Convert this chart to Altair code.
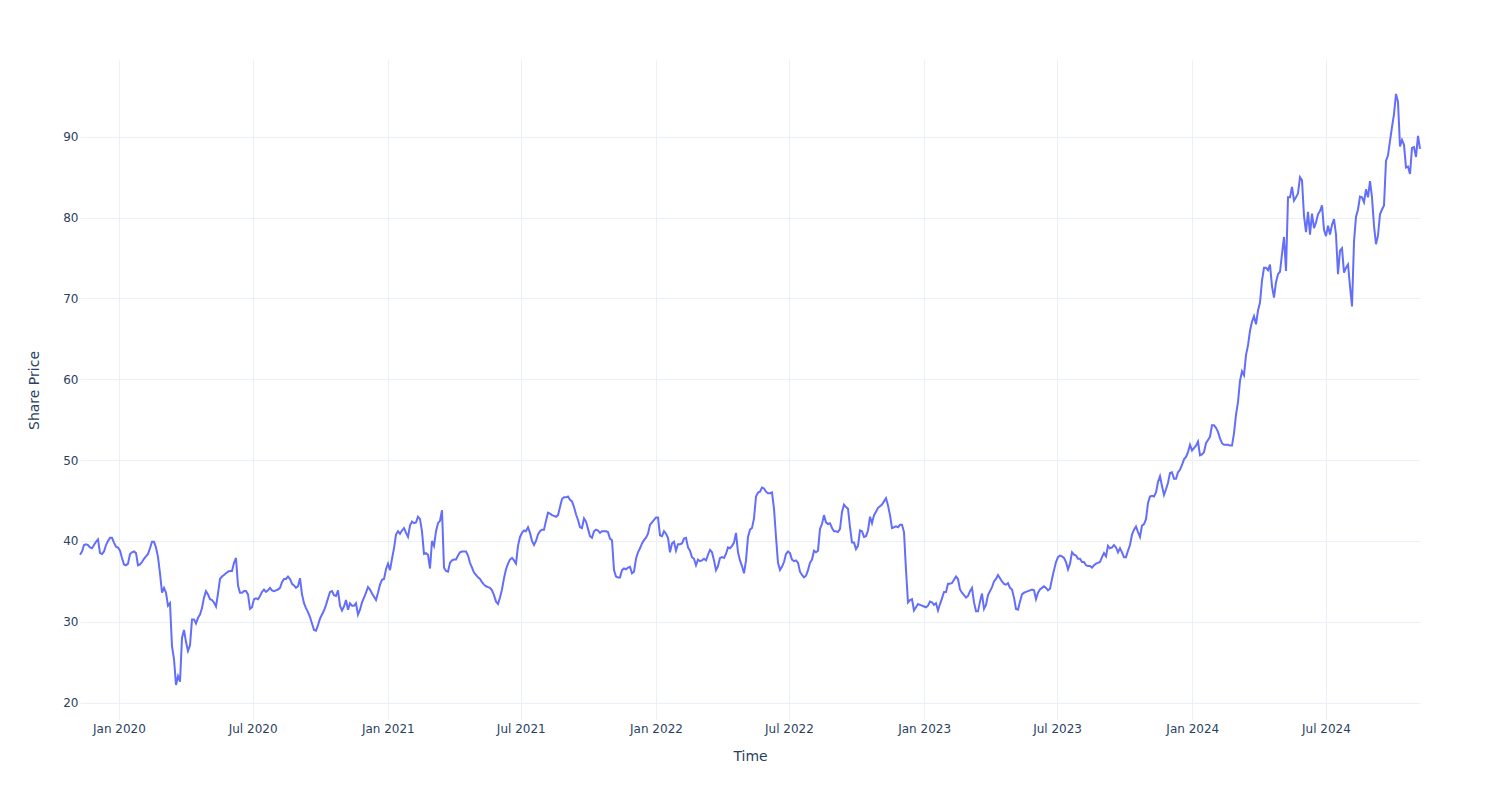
import altair as alt
import pandas as pd

# Time grid of the series (evenly spaced observations between first and last date)
START = "2019-11-09"
END = "2024-11-06"

# Share price, in time order
price = [
    38.3, 38.7, 39.5, 39.6, 39.5, 39.2, 39.1, 39.5, 39.9, 40.2,
    38.5, 38.4, 38.7, 39.5, 40.0, 40.4, 40.4, 39.8, 39.3, 39.2,
    38.8, 37.9, 37.1, 37.0, 37.2, 38.4, 38.6, 38.7, 38.5, 37.0,
    37.1, 37.4, 37.8, 38.1, 38.4, 39.1, 39.9, 39.9, 39.2, 38.0,
    36.0, 33.6, 34.2, 33.6, 32.0, 32.3, 27.0, 25.4, 22.2, 23.3,
    22.6, 28.0, 29.0, 27.5, 26.4, 27.1, 30.3, 30.3, 29.8, 30.5,
    30.9, 31.7, 33.0, 33.8, 33.4, 32.8, 32.7, 32.4, 31.9, 33.5,
    35.3, 35.6, 35.8, 36.0, 36.2, 36.3, 36.3, 37.3, 37.9, 34.5,
    33.6, 33.6, 33.8, 33.8, 33.4, 31.6, 31.8, 32.8, 32.9, 32.8,
    33.2, 33.7, 34.0, 33.7, 33.9, 34.2, 33.9, 33.8, 33.9, 34.0,
    34.2, 34.9, 35.3, 35.3, 35.6, 35.3, 34.7, 34.5, 34.2, 34.4,
    35.4, 33.4, 32.3, 31.7, 31.2, 30.6, 29.8, 29.0, 28.9, 29.6,
    30.4, 30.9, 31.4, 32.1, 32.9, 33.7, 33.8, 33.3, 33.2, 33.9,
    32.0, 31.4, 31.9, 32.7, 31.5, 32.3, 32.0, 32.0, 32.3, 30.9,
    31.5, 32.4, 33.0, 33.6, 34.3, 34.0, 33.5, 33.1, 32.7, 33.6,
    34.6, 35.2, 35.3, 36.5, 37.2, 36.4, 37.8, 39.1, 40.8, 41.2,
    40.9, 41.3, 41.6, 41.0, 40.5, 41.9, 42.4, 42.2, 42.3, 43.0,
    42.7, 41.2, 38.4, 38.5, 38.3, 36.6, 40.0, 39.4, 41.2, 42.2,
    42.5, 43.8, 36.7, 36.3, 36.2, 37.3, 37.6, 37.7, 37.7, 38.2,
    38.6, 38.7, 38.7, 38.7, 38.2, 37.3, 36.7, 36.1, 35.8, 35.5,
    35.3, 34.9, 34.6, 34.4, 34.3, 34.2, 33.9, 33.3, 32.5, 32.2,
    33.0, 34.0, 35.4, 36.5, 37.2, 37.7, 37.9, 37.6, 37.2, 39.4,
    40.5, 41.0, 41.3, 41.2, 41.7, 41.0, 40.0, 39.5, 40.0, 40.8,
    41.2, 41.4, 41.4, 42.5, 43.5, 43.4, 43.2, 43.1, 43.0, 43.2,
    44.2, 45.2, 45.4, 45.4, 45.5, 45.1, 44.9, 44.2, 43.3, 42.6,
    41.7, 41.6, 42.8, 42.4, 41.5, 40.6, 40.4, 41.2, 41.4, 41.3,
    41.0, 41.2, 41.2, 41.2, 41.1, 40.3, 40.1, 36.4, 35.6, 35.5,
    35.5, 36.4, 36.6, 36.5, 36.7, 36.8, 36.0, 36.2, 37.8, 38.6,
    39.1, 39.7, 40.1, 40.4, 40.9, 42.0, 42.3, 42.6, 42.9, 42.9,
    40.7, 40.6, 41.2, 40.9, 40.4, 38.6, 39.7, 39.9, 38.8, 39.6,
    39.6, 39.7, 40.3, 40.4, 39.2, 38.8, 38.0, 37.8, 37.0, 37.7,
    37.5, 37.6, 37.8, 37.6, 38.3, 38.9, 38.6, 37.6, 36.4, 36.9,
    37.9, 38.0, 37.9, 38.4, 39.2, 39.1, 39.4, 39.8, 41.0, 38.6,
    37.6, 36.9, 36.0, 37.6, 40.5, 41.4, 41.6, 42.8, 45.5, 46.0,
    46.1, 46.6, 46.5, 46.1, 45.9, 45.9, 46.0, 44.0, 40.5, 37.3,
    36.4, 36.8, 37.4, 38.4, 38.7, 38.5, 37.7, 37.5, 37.6, 37.3,
    36.2, 35.8, 35.5, 35.7, 36.4, 37.3, 37.7, 38.8, 38.6, 38.8,
    41.5, 42.1, 43.2, 42.3, 42.1, 42.2, 41.6, 41.2, 41.2, 41.1,
    41.5, 43.6, 44.5, 44.2, 44.0, 41.7, 39.8, 39.8, 39.0, 39.4,
    41.3, 41.2, 40.5, 40.6, 41.3, 43.0, 42.2, 43.2, 43.6, 44.1,
    44.3, 44.5, 44.9, 45.3, 44.4, 43.2, 41.6, 41.7, 41.8, 41.7,
    42.0, 42.0, 41.1, 36.4, 32.4, 32.7, 32.8, 31.4, 31.8, 32.2,
    32.1, 32.0, 31.9, 31.8, 32.0, 32.5, 32.4, 32.1, 32.3, 31.4,
    32.2, 32.9, 33.7, 33.7, 34.7, 34.7, 34.8, 35.2, 35.6, 35.3,
    34.0, 33.6, 33.3, 33.0, 33.2, 33.8, 34.2, 32.4, 31.3, 31.3,
    32.5, 33.5, 31.6, 32.1, 33.3, 33.8, 34.3, 35.0, 35.3, 35.8,
    35.4, 35.0, 34.7, 34.6, 34.8, 34.2, 34.0, 33.0, 31.6, 31.5,
    32.5, 33.4, 33.6, 33.7, 33.8, 33.9, 34.0, 33.9, 32.8, 33.6,
    34.0, 34.2, 34.4, 34.2, 33.9, 34.1, 35.3, 36.4, 37.4, 38.0,
    38.2, 38.1, 37.9, 37.4, 36.5, 37.2, 38.6, 38.3, 38.2, 37.8,
    37.8, 37.4, 37.4, 37.0, 36.9, 36.9, 36.7, 37.0, 37.2, 37.3,
    37.4, 38.0, 38.5, 38.1, 39.4, 39.1, 39.2, 39.5, 39.2, 38.6,
    39.1, 38.6, 38.0, 38.0, 38.8, 39.5, 40.8, 41.4, 41.8, 41.1,
    40.5, 41.9, 42.1, 42.7, 44.7, 45.5, 45.6, 45.5, 46.0, 47.3,
    48.0, 46.8, 45.7, 46.4, 47.2, 48.4, 48.5, 47.7, 47.7, 48.5,
    48.8, 49.4, 50.1, 50.4, 51.0, 51.9, 51.2, 51.5, 51.8, 52.3,
    50.6, 50.7, 51.0, 52.1, 52.5, 52.9, 54.3, 54.3, 54.0, 53.5,
    52.7, 52.1, 51.9, 51.9, 51.9, 51.8, 51.8, 53.3, 55.6, 57.2,
    59.8, 61.0, 60.5, 63.0, 64.2, 66.0, 67.1, 67.8, 66.8, 68.5,
    69.5, 72.2, 73.8, 73.8, 73.5, 74.2, 71.5, 70.1, 72.0, 73.0,
    73.3, 75.5, 77.6, 73.4, 82.5, 82.5, 83.8, 82.1, 82.5, 83.0,
    85.0, 84.6, 80.2, 78.2, 80.7, 77.9, 80.5, 78.7, 79.4, 80.4,
    80.8, 81.5, 78.5, 77.7, 79.0, 77.9, 79.1, 79.8, 77.9, 73.0,
    75.9, 76.2, 73.2, 73.8, 74.2, 71.5, 69.0, 77.0, 80.1, 81.0,
    82.6, 82.5, 81.9, 83.5, 82.5, 84.5, 82.5, 79.0, 76.7, 77.8,
    80.4, 81.0, 81.5, 87.0, 87.7, 89.5, 91.2, 92.8, 95.3, 94.3,
    88.8, 89.6, 89.0, 86.2, 86.3, 85.4, 88.6, 88.7, 87.5, 90.1,
    88.5,
]

tick_months = [(2020, 1), (2020, 7), (2021, 1), (2021, 7), (2022, 1),
               (2022, 7), (2023, 1), (2023, 7), (2024, 1), (2024, 7)]
y_ticks = [20, 30, 40, 50, 60, 70, 80, 90]
y_domain = [17.86, 99.49]

dates = pd.date_range(START, END, periods=len(price))
df = pd.DataFrame({
    "Time": dates.strftime("%Y-%m-%dT%H:%M:%SZ"),
    "Share Price": price,
})

FONT = "DejaVu Sans"
TXT = "#2a3f5f"
GRID = "#EBF0F8"

x_axis = alt.Axis(
    values=[alt.DateTime(year=y, month=m, date=1, utc=True) for y, m in tick_months],
    labelExpr="utcFormat(datum.value, '%b %Y')",
    grid=True, gridColor=GRID, gridWidth=1,
    domain=False, ticks=False, tickSize=0,
    labelFont=FONT, labelFontSize=12, labelColor=TXT, labelPadding=3,
    labelAngle=0,
    title="Time", titleFont=FONT, titleFontSize=14, titleColor=TXT,
    titleFontWeight="normal", titleX=670, titleY=36,
    titleAlign="center", titleBaseline="middle",
)
y_axis = alt.Axis(
    values=y_ticks,
    grid=True, gridColor=GRID, gridWidth=1,
    domain=False, ticks=False, tickSize=0,
    labelFont=FONT, labelFontSize=12, labelColor=TXT, labelPadding=2,
    title="Share Price", titleFont=FONT, titleFontSize=14, titleColor=TXT,
    titleFontWeight="normal", titleAngle=-90, titleX=-46, titleY=330,
    titleAlign="center", titleBaseline="middle",
)

chart = alt.Chart(df).mark_line(color="#636efa", strokeWidth=2).encode(
    x=alt.X("Time:T", axis=x_axis,
            scale=alt.Scale(type="utc", domain=[
                alt.DateTime(year=2019, month=11, date=9, utc=True),
                alt.DateTime(year=2024, month=11, date=6, utc=True)])),
    y=alt.Y("Share Price:Q", axis=y_axis,
            scale=alt.Scale(domain=y_domain, zero=False, nice=False)),
).properties(
    width=1340, height=660,
    autosize=alt.AutoSizeParams(type="none"),
    padding={"left": 80, "top": 60, "right": 80, "bottom": 80},
    background="white",
).configure_view(stroke=None)

chart.save("out.html", embed_options={"renderer": "svg", "actions": False})
